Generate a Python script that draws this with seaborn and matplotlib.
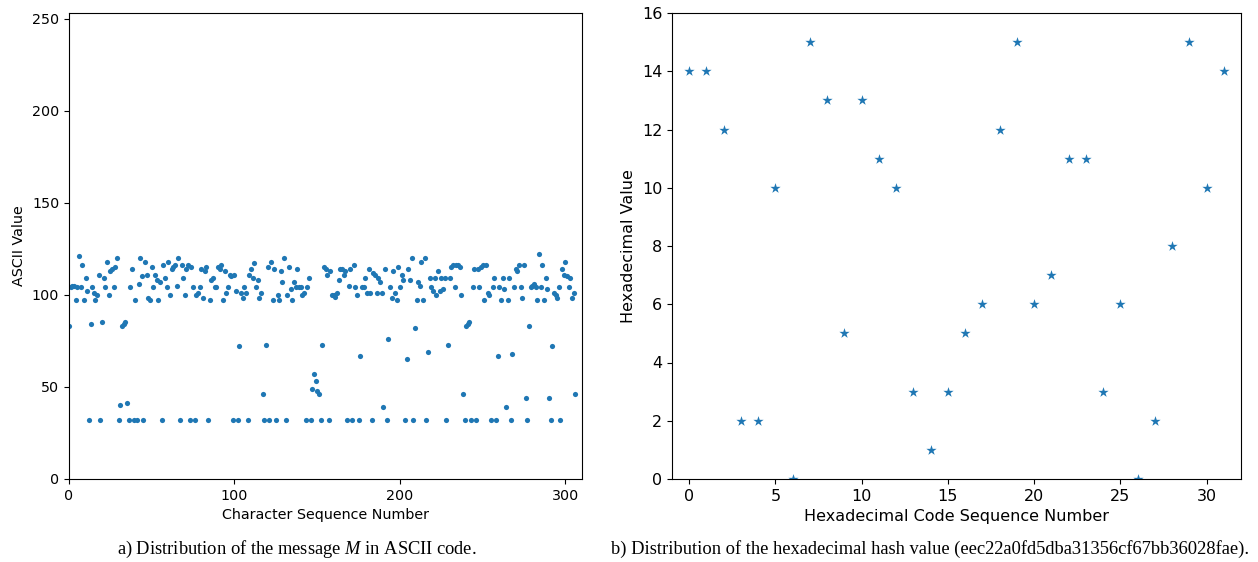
import matplotlib
matplotlib.use("Agg")
import matplotlib.pyplot as plt
import seaborn as sns
import pandas as pd

# ASCII values of message M
ascii_values = [
    83, 104, 105, 105, 97, 104, 121, 104, 116, 97,
    109, 102, 32, 84, 104, 101, 97, 100, 111, 32,
    85, 109, 104, 118, 100, 113, 114, 104, 115, 120,
    32, 40, 83, 84, 85, 41, 32, 104, 114, 32,
    97, 32, 106, 120, 110, 32, 118, 111, 98, 97,
    115, 104, 111, 108, 97, 107, 32, 116, 109, 104,
    118, 100, 114, 115, 116, 105, 120, 32, 116, 109,
    100, 114, 116, 32, 115, 104, 32, 100, 101, 104,
    114, 98, 113, 115, 32, 97, 108, 109, 104, 104,
    115, 114, 116, 97, 113, 101, 104, 111, 110, 32,
    111, 102, 32, 72, 101, 98, 104, 101, 32, 111,
    114, 109, 117, 104, 108, 98, 101, 46, 32, 73,
    115, 32, 118, 97, 114, 32, 100, 97, 113, 107,
    120, 32, 100, 115, 103, 97, 107, 104, 114, 104,
    104, 100, 101, 32, 104, 109, 32, 49, 57, 53,
    48, 46, 32, 73, 115, 114, 111, 32, 113, 100,
    100, 99, 101, 108, 114, 114, 111, 113, 32, 105,
    114, 32, 116, 104, 100, 32, 67, 104, 104, 109,
    101, 114, 101, 32, 112, 111, 101, 109, 107, 101,
    39, 114, 32, 76, 104, 98, 113, 101, 97, 115,
    104, 111, 108, 32, 65, 114, 108, 120, 32, 82,
    97, 107, 105, 118, 97, 120, 32, 69, 109, 104,
    102, 109, 100, 113, 102, 109, 103, 109, 32, 73,
    109, 115, 116, 104, 116, 116, 115, 100, 46, 32,
    83, 84, 85, 32, 104, 114, 32, 114, 104, 115,
    116, 97, 116, 101, 100, 32, 104, 109, 32, 67,
    104, 97, 109, 103, 39, 97, 109, 32, 68, 104,
    114, 113, 116, 104, 98, 116, 44, 32, 83, 104,
    105, 106, 104, 97, 122, 104, 116, 97, 109, 103,
    44, 32, 72, 101, 100, 98, 104, 32, 114, 111,
    118, 110, 104, 109, 98, 101, 46,
]

# hexadecimal hash value digits
hash_string = "eec22a0fd5dba31356cf67bb36028fae"
hex_values = [14, 14, 12, 2, 2, 10, 0, 15, 13, 5, 13, 11, 10, 3, 1, 3,
              5, 6, 12, 15, 6, 7, 11, 11, 3, 6, 0, 2, 8, 15, 10, 14]

caption_a = "a) Distribution of the message $M$ in ASCII code."
caption_b = "b) Distribution of the hexadecimal hash value (" + hash_string + ")."

plt.rcParams["mathtext.fontset"] = "custom"
plt.rcParams["mathtext.it"] = "Liberation Serif:italic"
plt.rcParams["mathtext.rm"] = "Liberation Serif"

df_a = pd.DataFrame({"idx": range(len(ascii_values)), "val": ascii_values})
df_b = pd.DataFrame({"idx": range(len(hex_values)), "val": hex_values})

W, H = 1258, 562
fig = plt.figure(figsize=(W / 100, H / 100), dpi=100)

def box(l, r, b, t):
    return [l / W, (H - b) / H, (r - l) / W, (b - t) / H]

ax1 = fig.add_axes(box(69, 582, 479, 13))
ax2 = fig.add_axes(box(672, 1241, 479, 13))

blue = "#1f77b4"
sns.scatterplot(data=df_a, x="idx", y="val", ax=ax1, s=14, color=blue,
                linewidth=0, legend=False)
ax1.set_xlim(0, 310)
ax1.set_ylim(0, 253)
ax1.set_yticks([0, 50, 100, 150, 200, 250])
ax1.set_xticks([0, 100, 200, 300])
ax1.set_xlabel("Character Sequence Number", fontsize=10.3)
ax1.set_ylabel("ASCII Value", fontsize=10.3)
ax1.tick_params(labelsize=10.3)

sns.scatterplot(data=df_b, x="idx", y="val", ax=ax2, s=60, marker="*",
                color=blue, linewidth=0, legend=False)
ax2.set_xlim(-1, 32)
ax2.set_ylim(0, 16)
ax2.set_xticks(range(0, 31, 5))
ax2.set_yticks(range(0, 17, 2))
ax2.set_xlabel("Hexadecimal Code Sequence Number", fontsize=11.5)
ax2.set_ylabel("Hexadecimal Value", fontsize=11.5)
ax2.tick_params(labelsize=11.5)

fig.text(297 / W, 1 - 549 / H, caption_a,
         ha="center", va="center", fontsize=13.3, family="Liberation Serif")
fig.text(930 / W, 1 - 549 / H, caption_b,
         ha="center", va="center", fontsize=13.3, family="Liberation Serif")

fig.savefig("out.png", dpi=100)
